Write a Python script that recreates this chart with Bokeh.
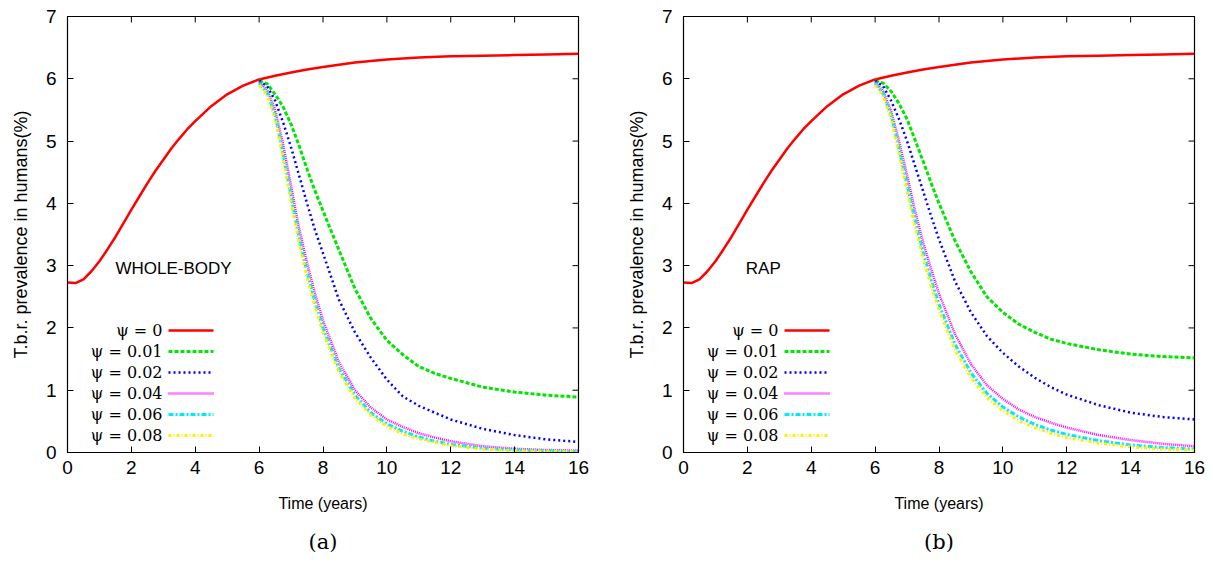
from bokeh.plotting import figure
from bokeh.models import Range1d, FixedTicker, Label, Title
from bokeh.layouts import row
from bokeh.embed import file_html
from bokeh.resources import INLINE

# ---------------- data ----------------
x_ticks = [0, 2, 4, 6, 8, 10, 12, 14, 16]
y_ticks = [0, 1, 2, 3, 4, 5, 6, 7]

legend_labels = ["ψ = 0", "ψ = 0.01", "ψ = 0.02", "ψ = 0.04", "ψ = 0.06", "ψ = 0.08"]

# psi = 0 (no intervention), same in both panels
t_base = [0, 0.25, 0.5, 0.75, 1, 1.25, 1.5, 1.75, 2, 2.25, 2.5, 2.75, 3, 3.25, 3.5, 3.75,
          4, 4.5, 5, 5.5, 6, 6.5, 7, 7.5, 8, 9, 10, 11, 12, 13, 14, 15, 16]
psi0 = [2.73, 2.72, 2.78, 2.91, 3.07, 3.26, 3.46, 3.68, 3.90, 4.11, 4.32, 4.52, 4.70,
        4.88, 5.04, 5.19, 5.32, 5.56, 5.75, 5.89, 5.99, 6.05, 6.10, 6.15, 6.19, 6.26,
        6.31, 6.34, 6.36, 6.37, 6.38, 6.39, 6.40]

# intervention starts at t = 6
t_int = [6, 6.25, 6.5, 6.75, 7, 7.25, 7.5, 7.75, 8, 8.5, 9, 9.5, 10, 10.5, 11, 11.5,
         12, 13, 14, 15, 16]

# (a) WHOLE-BODY
a_psi001 = [5.97, 5.92, 5.75, 5.55, 5.27, 4.93, 4.55, 4.20, 3.88, 3.25, 2.63, 2.15, 1.80,
            1.57, 1.38, 1.27, 1.19, 1.05, 0.97, 0.92, 0.89]
a_psi002 = [5.97, 5.88, 5.65, 5.30, 4.90, 4.45, 4.00, 3.57, 3.20, 2.45, 1.93, 1.52, 1.17,
            0.90, 0.75, 0.64, 0.53, 0.38, 0.28, 0.21, 0.17]
a_psi004 = [5.95, 5.82, 5.50, 4.95, 4.28, 3.60, 3.05, 2.55, 2.12, 1.45, 1.00, 0.72, 0.53,
            0.41, 0.31, 0.24, 0.18, 0.10, 0.06, 0.04, 0.03]
a_psi006 = [5.93, 5.78, 5.42, 4.80, 4.12, 3.45, 2.90, 2.42, 2.00, 1.35, 0.92, 0.64, 0.46,
            0.34, 0.25, 0.18, 0.13, 0.07, 0.04, 0.025, 0.015]
a_psi008 = [5.90, 5.74, 5.36, 4.72, 4.03, 3.37, 2.82, 2.34, 1.93, 1.29, 0.87, 0.60, 0.42,
            0.30, 0.22, 0.16, 0.11, 0.055, 0.03, 0.018, 0.01]

# (b) RAP
b_psi001 = [5.97, 5.93, 5.80, 5.60, 5.35, 5.02, 4.68, 4.33, 4.00, 3.40, 2.90, 2.50, 2.25,
            2.06, 1.93, 1.82, 1.75, 1.65, 1.58, 1.54, 1.52]
b_psi002 = [5.97, 5.88, 5.65, 5.35, 5.00, 4.60, 4.20, 3.80, 3.42, 2.75, 2.25, 1.87, 1.60,
            1.38, 1.20, 1.05, 0.93, 0.76, 0.64, 0.57, 0.53]
b_psi004 = [5.95, 5.80, 5.48, 5.00, 4.45, 3.88, 3.38, 2.95, 2.55, 1.90, 1.42, 1.08, 0.86,
            0.69, 0.57, 0.48, 0.40, 0.28, 0.20, 0.14, 0.10]
b_psi006 = [5.93, 5.76, 5.42, 4.88, 4.30, 3.73, 3.22, 2.78, 2.38, 1.74, 1.28, 0.95, 0.73,
            0.57, 0.45, 0.36, 0.29, 0.19, 0.12, 0.08, 0.055]
b_psi008 = [5.90, 5.72, 5.37, 4.80, 4.20, 3.63, 3.12, 2.68, 2.28, 1.65, 1.20, 0.88, 0.67,
            0.51, 0.40, 0.31, 0.24, 0.15, 0.09, 0.055, 0.035]

# ---------------- styles ----------------
STYLES = [
    dict(color="#ff0000", line_width=2.5, line_dash="solid"),
    dict(color="#00e600", line_width=3, line_dash="4 2"),
    dict(color="#0000ff", line_width=2.5, line_dash="2 3"),
    dict(color="#ff00ff", line_width=2.5, line_dash="1 1"),
    dict(color="#00e8ff", line_width=3, line_dash="5 2 2 2"),
    dict(color="#ffee00", line_width=3, line_dash="3 2 1 2"),
]

SANS = "Liberation Sans"
SERIF = "DejaVu Serif"
FRAME_W, FRAME_H = 511, 436
X_MIN, X_MAX, Y_MIN, Y_MAX = 0, 16, 0, 7


def make_panel(interv, note, note_x, caption, width, left):
    right = width - left - FRAME_W
    p = figure(width=width, height=568, x_range=Range1d(X_MIN, X_MAX),
               y_range=Range1d(Y_MIN, Y_MAX),
               output_backend="svg", toolbar_location=None,
               min_border_left=left, min_border_right=right,
               min_border_top=16, min_border_bottom=568 - 16 - FRAME_H)
    p.grid.visible = False
    p.outline_line_color = "black"
    p.outline_line_width = 1.2
    p.background_fill_color = "white"

    px_x = FRAME_W / float(X_MAX - X_MIN)   # pixels per x unit
    px_y = FRAME_H / float(Y_MAX - Y_MIN)   # pixels per y unit

    for ax, ticks in ((p.xaxis[0], x_ticks), (p.yaxis[0], y_ticks)):
        ax.ticker = FixedTicker(ticks=ticks)
        ax.minor_tick_line_color = None
        ax.major_tick_in = 6
        ax.major_tick_out = 0
        ax.major_label_text_font = SANS
        ax.major_label_text_font_size = "19px"
        ax.major_label_text_color = "black"
        ax.axis_line_color = "black"
        ax.axis_label_text_font = SANS
        ax.axis_label_text_font_style = "normal"
        ax.axis_label_text_color = "black"
    p.xaxis[0].axis_label = "Time (years)"
    p.xaxis[0].axis_label_text_font_size = "16px"
    p.xaxis[0].major_label_standoff = 8
    p.xaxis[0].axis_label_standoff = 18
    p.yaxis[0].axis_label = "T.b.r. prevalence in humans(%)"
    p.yaxis[0].axis_label_text_font_size = "18px"
    p.yaxis[0].major_label_standoff = 11
    p.yaxis[0].axis_label_standoff = 12

    # mirrored ticks on top and right edges (inward)
    tick_len_x = 6.0 / px_x
    tick_len_y = 6.0 / px_y
    p.segment(x0=x_ticks, y0=[Y_MAX] * len(x_ticks), x1=x_ticks,
              y1=[Y_MAX - tick_len_y] * len(x_ticks), line_color="black", line_width=1)
    p.segment(x0=[X_MAX] * len(y_ticks), y0=y_ticks, x1=[X_MAX - tick_len_x] * len(y_ticks),
              y1=y_ticks, line_color="black", line_width=1)

    p.line(t_base, psi0, **STYLES[0])
    for vals, st in zip(interv, STYLES[1:]):
        p.line(t_int, vals, **st)

    # key: label (right aligned) followed by a line sample, gnuplot style
    row_h = 21
    first_row_from_top = 314.0  # pixels below frame top for first row centre
    sample_x0, sample_x1, text_right = 101.0, 146.0, 95.0
    for k, (lab, st) in enumerate(zip(legend_labels, STYLES)):
        yk = (FRAME_H - (first_row_from_top + k * row_h)) / px_y
        p.line([sample_x0 / px_x, sample_x1 / px_x], [yk, yk], **st)
        p.add_layout(Label(x=text_right / px_x, y=yk, text=lab,
                           text_align="right", text_baseline="middle",
                           text_font=SERIF, text_font_size="16px", text_color="black"))

    p.add_layout(Label(x=note_x, y=2.96, text=note, text_baseline="middle",
                       text_font=SANS, text_font_size="17px", text_color="black"))

    p.add_layout(Title(text=caption, align="center", text_font=SERIF, text_font_size="21px",
                       text_font_style="normal", text_color="black", standoff=26), "below")
    return p


pa = make_panel([a_psi001, a_psi002, a_psi004, a_psi006, a_psi008], "WHOLE-BODY", 1.5,
                "(a)", 606, 67)
pb = make_panel([b_psi001, b_psi002, b_psi004, b_psi006, b_psi008], "RAP", 1.95,
                "(b)", 607, 77)

layout = row(pa, pb)
open("out.html", "w").write(file_html(layout, INLINE))
